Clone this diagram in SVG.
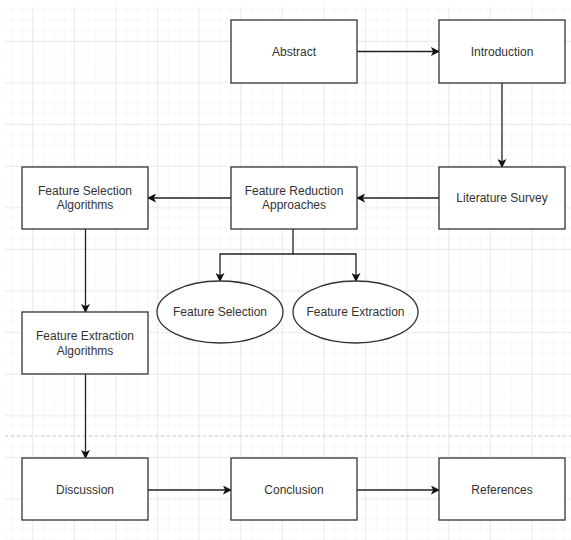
<svg xmlns="http://www.w3.org/2000/svg" width="571" height="540" viewBox="0 0 571 540">
<defs>
<pattern id="minor" x="-9.6" y="-0.6" width="10.4" height="10.4" patternUnits="userSpaceOnUse">
<path d="M0 0H10.4M0 0V10.4" fill="none" stroke="#efefef" stroke-width="1"/>
</pattern>
<pattern id="major" x="-9.6" y="-0.6" width="41.6" height="41.6" patternUnits="userSpaceOnUse">
<rect width="41.6" height="41.6" fill="url(#minor)"/>
<path d="M0 0H41.6M0 0V41.6" fill="none" stroke="#dcdcdc" stroke-width="1"/>
</pattern>
<marker id="arr" viewBox="0 0 10 10" refX="9" refY="5" markerWidth="9" markerHeight="9" markerUnits="userSpaceOnUse" orient="auto">
<path d="M0 0L10 5L0 10L2.5 5Z" fill="#111"/>
</marker>
<style>
.box{fill:#fff;stroke:#333;stroke-width:1.3}
.t{font-family:"Liberation Sans",Arial,sans-serif;font-size:12px;fill:#333;text-anchor:middle}
.c{fill:none;stroke:#222;stroke-width:1.3}
</style>
</defs>
<rect width="571" height="540" fill="#fff"/>
<rect x="5" y="7" width="566" height="533" fill="url(#major)"/>
<line x1="5" y1="436" x2="571" y2="436" stroke="#c8c8c8" stroke-width="1" stroke-dasharray="3,3"/>
<g id="connectors">
<path class="c" d="M357 51.5H439" marker-end="url(#arr)"/>
<path class="c" d="M502 83V167" marker-end="url(#arr)"/>
<path class="c" d="M439 198H357" marker-end="url(#arr)"/>
<path class="c" d="M231 198H148" marker-end="url(#arr)"/>
<path class="c" d="M85.5 229V312" marker-end="url(#arr)"/>
<path class="c" d="M85.5 374V458" marker-end="url(#arr)"/>
<path class="c" d="M148 490H231" marker-end="url(#arr)"/>
<path class="c" d="M357 490H439" marker-end="url(#arr)"/>
<path class="c" d="M293 229V254H220V281" marker-end="url(#arr)"/>
<path class="c" d="M293 254H356V281" marker-end="url(#arr)"/>
</g>
<g id="abstract"><rect class="box" x="231" y="20" width="126" height="63"/><text class="t" x="294" y="56">Abstract</text></g>
<g id="introduction"><rect class="box" x="439" y="20" width="126" height="63"/><text class="t" x="502" y="56">Introduction</text></g>
<g id="literature-survey"><rect class="box" x="439" y="167" width="126" height="62"/><text class="t" x="502" y="202">Literature Survey</text></g>
<g id="feature-reduction"><rect class="box" x="231" y="167" width="126" height="62"/><text class="t" x="294" y="195">Feature Reduction</text><text class="t" x="294" y="209">Approaches</text></g>
<g id="feature-selection-algorithms"><rect class="box" x="22" y="167" width="126" height="62"/><text class="t" x="85" y="195">Feature Selection</text><text class="t" x="85" y="209">Algorithms</text></g>
<g id="feature-extraction-algorithms"><rect class="box" x="22" y="312" width="126" height="62"/><text class="t" x="85" y="340">Feature Extraction</text><text class="t" x="85" y="355">Algorithms</text></g>
<g id="feature-selection"><ellipse class="box" cx="220" cy="312" rx="63" ry="31"/><text class="t" x="220" y="316">Feature Selection</text></g>
<g id="feature-extraction"><ellipse class="box" cx="355.5" cy="312" rx="62.5" ry="31"/><text class="t" x="355.5" y="316">Feature Extraction</text></g>
<g id="discussion"><rect class="box" x="22" y="458" width="126" height="62"/><text class="t" x="85" y="494">Discussion</text></g>
<g id="conclusion"><rect class="box" x="231" y="458" width="126" height="62"/><text class="t" x="294" y="494">Conclusion</text></g>
<g id="references"><rect class="box" x="439" y="458" width="126" height="62"/><text class="t" x="502" y="494">References</text></g>
</svg>
